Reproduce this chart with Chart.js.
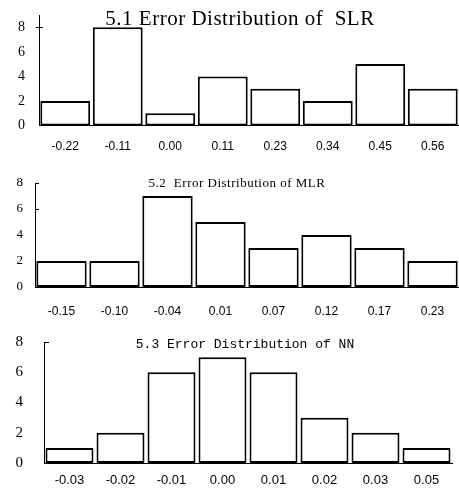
<!DOCTYPE html>
<html><head><meta charset="utf-8">
<script src="https://cdn.jsdelivr.net/npm/chart.js@4"></script>
<style>
html,body{margin:0;padding:0;background:#fff;}
#wrap{position:relative;width:459px;height:495px;overflow:hidden;background:#fff;}
.p{position:absolute;left:0;width:459px;}
canvas{display:block;}
</style></head><body>
<div id="wrap">
<div class="p" style="top:0;height:160px"><canvas id="c1" width="459" height="160"></canvas></div>
<div class="p" style="top:160px;height:165px"><canvas id="c2" width="459" height="165"></canvas></div>
<div class="p" style="top:325px;height:170px"><canvas id="c3" width="459" height="170"></canvas></div>
</div>
<script>
const slrLabels = ['-0.22','-0.11','0.00','0.11','0.23','0.34','0.45','0.56'];
const slrCounts = [2,8,1,4,3,2,5,3];
const mlrLabels = ['-0.15','-0.10','-0.04','0.01','0.07','0.12','0.17','0.23'];
const mlrCounts = [2,2,7,5,3,4,3,2];
const nnLabels = ['-0.03','-0.02','-0.01','0.00','0.01','0.02','0.03','0.05'];
const nnCounts = [1,2,6,7,6,3,2,1];
const yTickValues = [0,2,4,6,8];
const slrTitle = '5.1 Error Distribution of  SLR';
const mlrTitle = '5.2  Error Distribution of MLR';
const nnTitle = '5.3 Error Distribution of NN';

function makeChart(id, labels, counts, title, g) {
  const titlePlugin = {
    id: 'tt' + id,
    afterDraw(chart) {
      const ctx = chart.ctx;
      const ys = chart.scales.y;
      ctx.save();
      ctx.strokeStyle = '#000';
      ctx.lineWidth = 1;
      ctx.beginPath();
      g.tickVals.forEach(v => {
        const py = Math.round(ys.getPixelForValue(v)) + 0.5;
        ctx.moveTo(ys.right - g.tickOut, py);
        ctx.lineTo(ys.right + g.tickIn, py);
      });
      ctx.stroke();
      ctx.font = g.titleFont;
      if ('letterSpacing' in ctx) ctx.letterSpacing = g.titleSpacing;
      ctx.fillStyle = '#000';
      ctx.textAlign = 'center';
      ctx.textBaseline = 'alphabetic';
      ctx.fillText(title, g.titleX, g.titleY);
      ctx.restore();
    }
  };
  return new Chart(document.getElementById(id), {
    type: 'bar',
    data: {
      labels: labels,
      datasets: [{
        data: counts,
        backgroundColor: '#fff',
        borderColor: '#000',
        borderWidth: 2,
        borderSkipped: false,
        barPercentage: g.barPct,
        categoryPercentage: 1
      }]
    },
    options: {
      responsive: false,
      animation: false,
      events: [],
      layout: { padding: { top: g.top, right: g.right, bottom: 0, left: 0 } },
      plugins: { legend: { display: false }, tooltip: { enabled: false }, title: { display: false } },
      scales: {
        x: {
          grid: { display: false, drawTicks: false },
          border: { display: true, color: '#000', width: 1 },
          ticks: { color: '#000', font: { family: 'Liberation Sans', size: g.xFont }, padding: g.xPad, maxRotation: 0, autoSkip: false },
          afterFit: s => { s.height = g.xh; s.paddingLeft = 0; s.paddingRight = 0; }
        },
        y: {
          min: 0, max: g.ymax,
          afterBuildTicks: s => { s.ticks = yTickValues.map(v => ({ value: v })); },
          grid: { display: false, drawTicks: false },
          border: { display: true, color: '#000', width: 1 },
          ticks: { color: '#000', font: { family: 'Liberation Serif', size: g.yFont }, padding: g.yPad },
          afterFit: s => { s.width = g.left; s.paddingTop = 0; s.paddingBottom = 0; }
        }
      }
    },
    plugins: [titlePlugin]
  });
}

makeChart('c1', slrLabels, slrCounts, slrTitle, {
  top: 15, right: 0, left: 39, xh: 34.5, ymax: 9, barPct: 0.95,
  xFont: 12, xPad: 14, yFont: 14, yPad: 14,
  tickVals: [8], tickOut: 3, tickIn: 4,
  titleFont: '21px "Liberation Serif"', titleSpacing: '0.5px', titleX: 240, titleY: 25
});
makeChart('c2', mlrLabels, mlrCounts, mlrTitle, {
  top: 23, right: 0, left: 35, xh: 38, ymax: 8, barPct: 0.95,
  xFont: 12, xPad: 17, yFont: 13, yPad: 12,
  tickVals: [8, 6], tickOut: 0, tickIn: 4,
  titleFont: '13px "Liberation Serif"', titleSpacing: '0.5px', titleX: 237, titleY: 26.7
});
makeChart('c3', nnLabels, nnCounts, nnTitle, {
  top: 17, right: 7, left: 44, xh: 32, ymax: 8, barPct: 0.94,
  xFont: 13, xPad: 10, yFont: 15, yPad: 21,
  tickVals: [8], tickOut: 0, tickIn: 5,
  titleFont: '13px "Liberation Mono"', titleSpacing: '0px', titleX: 245, titleY: 23
});
</script>
</body></html>
